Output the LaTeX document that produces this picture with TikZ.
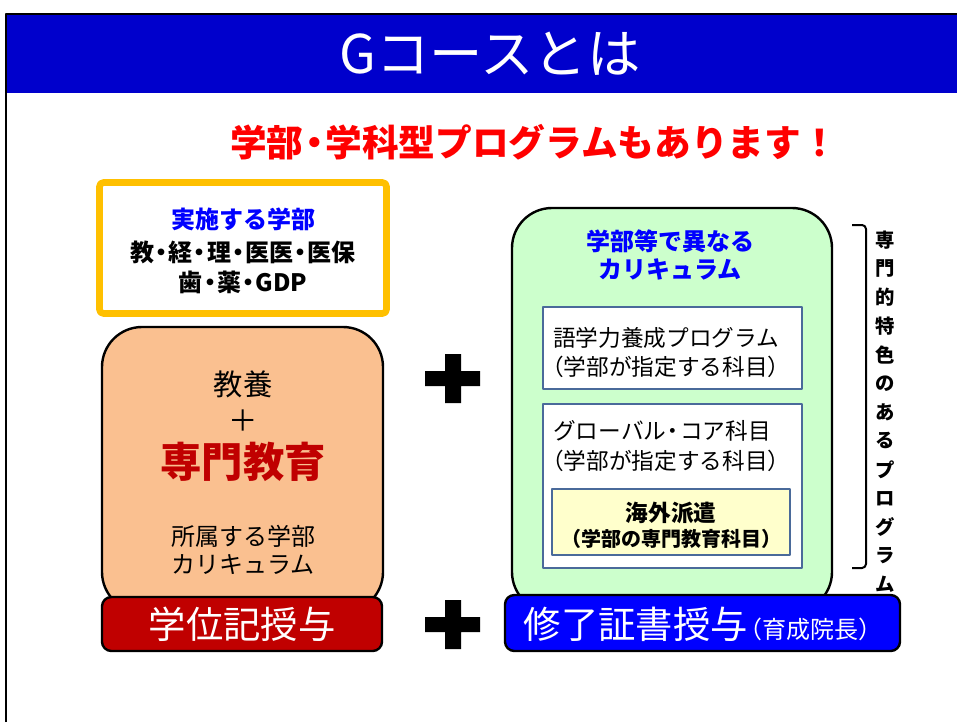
\documentclass[tikz,border=0pt]{standalone}
\usepackage{fontspec}
\setmainfont{Noto Sans CJK JP}
\definecolor{titleblue}{HTML}{0000CC}
\definecolor{framegold}{HTML}{FFC000}
\definecolor{deptblue}{HTML}{0000FF}
\definecolor{peach}{HTML}{FAC090}
\definecolor{darkred}{HTML}{C00000}
\definecolor{mint}{HTML}{CCFFCC}
\definecolor{subjblue}{HTML}{4A6A9A}
\definecolor{paleyellow}{HTML}{FFFFCC}
\newcommand\nakaguro{\makebox[.6em]{・}}
\newcommand\pts[1]{\fontsize{#1}{#1}\selectfont}
\begin{document}
\begin{tikzpicture}[x=.75pt,y=-.75pt,line join=round,inner sep=0pt,
    boxline/.style={draw=black,line width=1.8pt},
    subjbox/.style={draw=subjblue,line width=1.5pt},
    award/.style={text=white,font=\pts{28}}]
  \useasboundingbox (0,0) rectangle (957,722);
  % frame and title
  \draw[line width=2.2pt] (6,722)--(6,14)--(957,14);
  \fill[titleblue] (7,15) rectangle (957,93);
  \node[text=white,font=\pts{40}] (title) at (490,54) {Gコースとは};
  \node[text=red,font=\bfseries\pts{27.5}] (catch) at (534,142) {学部\nakaguro 学科型プログラムもあります！};
  % faculties
  \draw[line width=5pt,draw=framegold,fill=white,rounded corners=3pt] (99.5,182.5) rectangle (386.5,313.5);
  \node[text=deptblue,font=\bfseries\pts{18}] (facttl) at (243,219) {実施する学部};
  \node[font=\bfseries\pts{18}] (faca) at (243,252) {教\nakaguro 経\nakaguro 理\nakaguro 医医\nakaguro 医保};
  \node[font=\bfseries\pts{18}] (facb) at (243,282) {歯\nakaguro 薬\nakaguro GDP};
  % left: home faculty
  \draw[boxline,fill=peach,rounded corners=30pt] (102,327) rectangle (383,612);
  \draw[boxline,fill=darkred,rounded corners=7pt] (102,597) rectangle (382,651);
  \node[font=\pts{22}] (kyoyo) at (243,384) {教養};
  \node[font=\pts{22}] (plus) at (243,421) {＋};
  \node[text=darkred,font=\bfseries\pts{31}] (senmon) at (243,462) {専門教育};
  \node[font=\pts{18}] (shozoku) at (243,536) {所属する学部};
  \node[font=\pts{18}] (curra) at (243,565) {カリキュラム};
  \node[award] (degree) at (242,624) {学位記授与};
  % plus signs
  \foreach \y in {378,624}
    \fill (445,\y-24) rectangle (461,\y+25) (425,\y-7) rectangle (480,\y+8);
  % right: G course
  \draw[boxline,fill=mint,rounded corners=30pt] (512,208) rectangle (832,612);
  \draw[boxline,fill=deptblue,rounded corners=7pt] (505,595) rectangle (900,651);
  \node[text=deptblue,font=\bfseries\pts{18}] (gttl) at (670,241) {学部等で異なる};
  \node[text=deptblue,font=\bfseries\pts{18}] (currb) at (670,269) {カリキュラム};
  \draw[subjbox,fill=white] (543,307) rectangle (802,389);
  \node[anchor=west,font=\pts{17}] (lang) at (553,338) {語学力養成プログラム};
  \node[anchor=west,font=\pts{17}] (langsub) at (541,367) {（学部が指定する科目）};
  \draw[subjbox,fill=white] (543,404) rectangle (802,568);
  \node[anchor=west,font=\pts{17}] (core) at (553,431) {グローバル\nakaguro コア科目};
  \node[anchor=west,font=\pts{17}] (coresub) at (541,461) {（学部が指定する科目）};
  \draw[subjbox,fill=paleyellow] (552,489) rectangle (790,555);
  \node[font=\bfseries\pts{17}] (abroad) at (671,513) {海外派遣};
  \node[font=\bfseries\pts{15}] (abroadsub) at (671,539) {（学部の専門教育科目）};
  \node[award] (cert) at (703,624) {修了証書授与\pts{18}\hspace{-.4em}（育成院長）};
  % bracket and vertical label
  \draw[line width=1.5pt,rounded corners=3pt] (852,225)--(866,225)--(866,568)--(852,568);
  \foreach [count=\i] \c in {専,門,的,特,色,の,あ,る,プ,ロ,グ,ラ,ム}
    \node[font=\bfseries\pts{14.5}] (tate\i) at (885,{240+28.7*(\i-1)}) {\c};
\end{tikzpicture}
\end{document}
